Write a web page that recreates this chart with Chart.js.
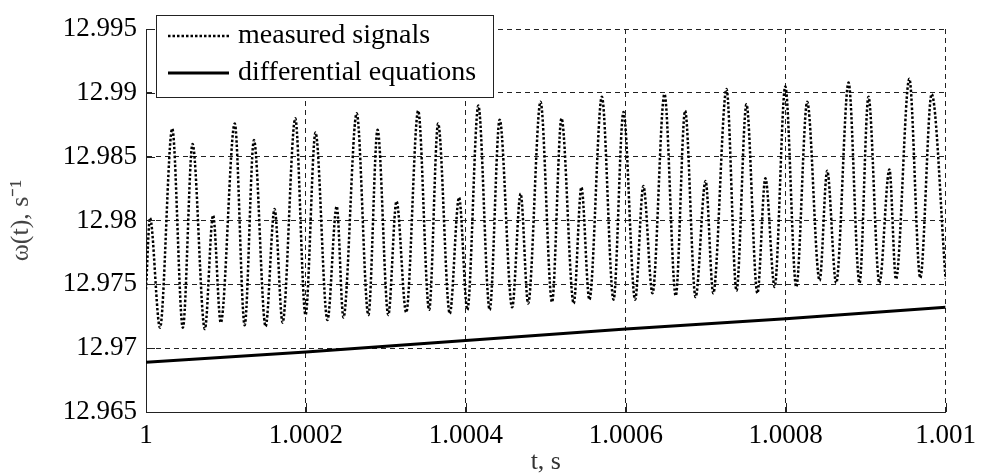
<!DOCTYPE html>
<html lang="en">

<head>
    <meta charset="UTF-8">
    <title>omega(t)</title>
    <script src="https://cdn.jsdelivr.net/npm/chart.js"></script>
    <style>
        body { margin: 0; background: #ffffff; }
    </style>
</head>

<body>
    <canvas id="myChart" width="984" height="475"></canvas>
</body>

</html>

<script>
    // time axis in microseconds after t = 1 s
    const tMedido = [0, 5, 17.5, 32.8, 46.1, 58.2, 73.6, 83.9, 93.5, 111,
        123.4, 135, 149.6, 160.8, 170.8, 186.7, 199.5, 212, 226.9, 238.5,
        246.9, 263.5, 278.1, 289.6, 303, 313.3, 325.4, 340.4, 354.1, 365.3,
        379.9, 391.5, 401.9, 415.6, 429.8, 442.3, 457.9, 468.5, 477.9, 493.4,
        507.8, 519.6, 534.9, 544.5, 554.5, 570.1, 584.7, 597.1, 611.7, 622,
        633.4, 648.4, 662.5, 674.2, 687.3, 699.8, 709.4, 726, 738.5, 750.9,
        764.6, 774.6, 786.2, 799.5, 813.2, 826.9, 842.4, 851.9, 863.1, 878.6,
        892.3, 903.5, 917.2, 929.7, 937.9, 954.6, 968.3, 982.5, 1000];

    const wMedido = [12.9746, 12.9802, 12.9716, 12.9872, 12.9716, 12.9860, 12.9715, 12.9804, 12.9720, 12.9876,
        12.9718, 12.9863, 12.9717, 12.9809, 12.9720, 12.9880, 12.9726, 12.9869, 12.9722, 12.9811,
        12.9724, 12.9884, 12.9726, 12.9871, 12.9726, 12.9815, 12.9728, 12.9886, 12.9730, 12.9876,
        12.9727, 12.9818, 12.9730, 12.9890, 12.9730, 12.9879, 12.9732, 12.9821, 12.9735, 12.9893,
        12.9736, 12.9880, 12.9735, 12.9826, 12.9738, 12.9897, 12.9738, 12.9885, 12.9738, 12.9827,
        12.9743, 12.9899, 12.9741, 12.9886, 12.9740, 12.9831, 12.9743, 12.9903, 12.9745, 12.9891,
        12.9743, 12.9833, 12.9748, 12.9905, 12.9748, 12.9893, 12.9753, 12.9839, 12.9751, 12.9908,
        12.9751, 12.9897, 12.9751, 12.9840, 12.9754, 12.9911, 12.9755, 12.9899, 12.9754];

    const tEquacao = [0, 200, 400, 600, 800, 1000];
    const wEquacao = [12.9689, 12.9697, 12.9706, 12.9715, 12.9723, 12.9732];

    const nomesSeries = ['measured signals', 'differential equations'];

    const xTicks = [0, 200, 400, 600, 800, 1000];
    const xTickLabels = ['1', '1.0002', '1.0004', '1.0006', '1.0008', '1.001'];
    const yTicks = [12.965, 12.97, 12.975, 12.98, 12.985, 12.99, 12.995];
    const yTickLabels = ['12.965', '12.97', '12.975', '12.98', '12.985', '12.99', '12.995'];

    const fonteSerif = "'Liberation Serif', 'Times New Roman', serif";

    // small inward tick marks on the left and bottom axes
    const ticksInternos = {
        id: 'ticksInternos',
        afterDatasetsDraw(chart) {
            const ctx = chart.ctx;
            const area = chart.chartArea;
            const x = chart.scales.x;
            const y = chart.scales.y;
            ctx.save();
            ctx.strokeStyle = '#222';
            ctx.lineWidth = 1;
            ctx.beginPath();
            xTicks.forEach(v => {
                const px = Math.round(x.getPixelForValue(v)) + 0.5;
                ctx.moveTo(px, area.bottom);
                ctx.lineTo(px, area.bottom - 9);
            });
            yTicks.forEach(v => {
                const py = Math.round(y.getPixelForValue(v)) + 0.5;
                ctx.moveTo(area.left, py);
                ctx.lineTo(area.left + 9, py);
            });
            ctx.stroke();
            ctx.restore();
        }
    };

    // boxed legend in the upper left, overlapping the top of the frame
    const legendaCaixa = {
        id: 'legendaCaixa',
        afterDraw(chart) {
            const ctx = chart.ctx;
            ctx.save();
            ctx.fillStyle = '#ffffff';
            ctx.fillRect(156, 15, 337, 82);
            ctx.strokeStyle = '#222';
            ctx.lineWidth = 1;
            ctx.strokeRect(156.5, 15.5, 337, 82);

            ctx.strokeStyle = '#000';
            ctx.lineWidth = 2.5;
            ctx.setLineDash([2.5, 2]);
            ctx.beginPath();
            ctx.moveTo(168, 36);
            ctx.lineTo(229, 36);
            ctx.stroke();

            ctx.setLineDash([]);
            ctx.lineWidth = 3;
            ctx.beginPath();
            ctx.moveTo(168, 73);
            ctx.lineTo(229, 73);
            ctx.stroke();

            ctx.fillStyle = '#000';
            ctx.font = '28px ' + fonteSerif;
            ctx.textBaseline = 'middle';
            ctx.fillText(nomesSeries[0], 238, 36);
            ctx.fillText(nomesSeries[1], 238, 73);
            ctx.restore();
        }
    };

    const dadosGrafico = {
        datasets: [{
            label: nomesSeries[0],
            data: tMedido.map((t, i) => ({ x: t, y: wMedido[i] })),
            borderColor: '#000',
            borderWidth: 2.5,
            borderDash: [2.5, 2],
            pointRadius: 0,
            cubicInterpolationMode: 'monotone',
            fill: false
        }, {
            label: nomesSeries[1],
            data: tEquacao.map((t, i) => ({ x: t, y: wEquacao[i] })),
            borderColor: '#000',
            borderWidth: 3,
            pointRadius: 0,
            tension: 0,
            fill: false
        }]
    };

    const config = {
        type: 'line',
        data: dadosGrafico,
        options: {
            responsive: false,
            animation: false,
            devicePixelRatio: 1,
            layout: {
                padding: { top: 29, right: 36, left: 0, bottom: 0 }
            },
            plugins: {
                legend: { display: false },
                tooltip: { enabled: false }
            },
            scales: {
                x: {
                    type: 'linear',
                    min: 0,
                    max: 1000,
                    afterBuildTicks: s => { s.ticks = xTicks.map(v => ({ value: v })); },
                    afterFit: s => { s.height = 63; },
                    ticks: {
                        color: '#000',
                        padding: 8,
                        maxRotation: 0,
                        font: { family: fonteSerif, size: 27 },
                        callback: (v, i) => xTickLabels[i]
                    },
                    grid: {
                        color: '#222',
                        lineWidth: 1,
                        drawTicks: false
                    },
                    border: {
                        display: true,
                        color: '#222',
                        width: 1,
                        dash: [5, 4]
                    },
                    title: {
                        display: true,
                        text: 't, s',
                        color: '#333',
                        padding: { top: 0, bottom: 0 },
                        font: { family: fonteSerif, size: 26, lineHeight: 1 }
                    }
                },
                y: {
                    min: 12.965,
                    max: 12.995,
                    afterBuildTicks: s => { s.ticks = yTicks.map(v => ({ value: v })); },
                    afterFit: s => { s.width = 146; },
                    ticks: {
                        color: '#000',
                        padding: 9,
                        font: { family: fonteSerif, size: 27 },
                        callback: (v, i) => yTickLabels[i]
                    },
                    grid: {
                        color: '#222',
                        lineWidth: 1,
                        drawTicks: false
                    },
                    border: {
                        display: true,
                        color: '#222',
                        width: 1,
                        dash: [5, 4]
                    },
                    title: {
                        display: true,
                        text: 'ω(t), s⁻¹',
                        color: '#444',
                        padding: { top: 8, bottom: 0 },
                        font: { family: fonteSerif, size: 26, lineHeight: 1 }
                    }
                }
            }
        },
        plugins: [ticksInternos, legendaCaixa]
    };

    const meuGrafico = new Chart(
        document.getElementById('myChart'),
        config
    );
</script>
